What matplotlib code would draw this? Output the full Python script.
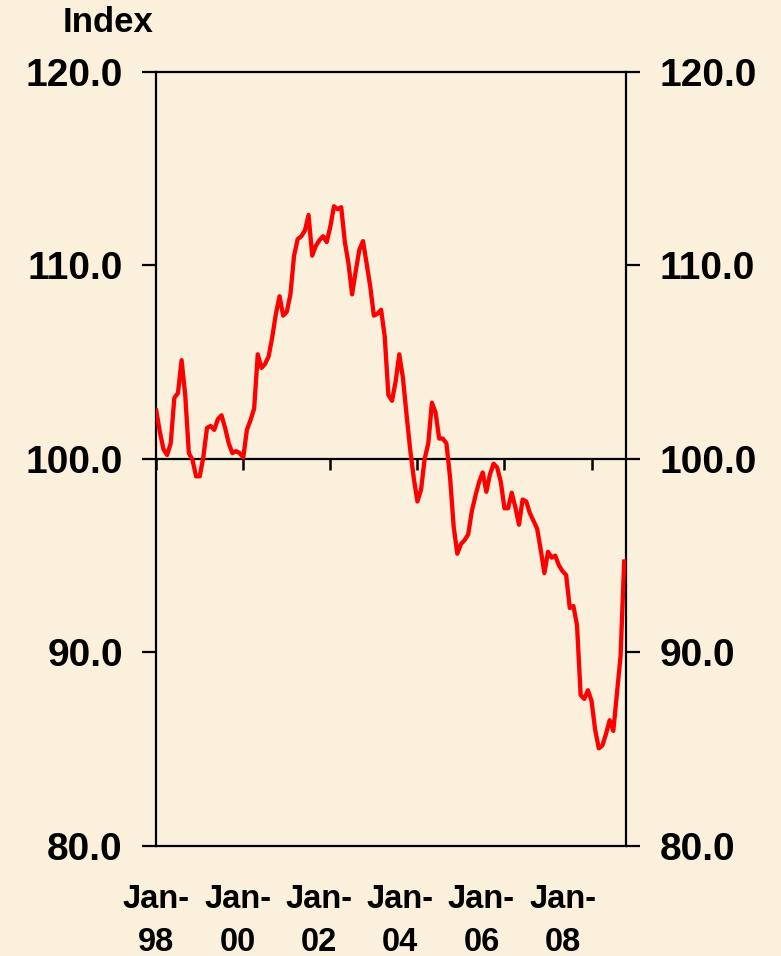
import numpy as np
import matplotlib
matplotlib.use('Agg')
import matplotlib.pyplot as plt

# Monthly index, Jan-98 onwards
values = [102.5, 101.4, 100.5, 100.2, 100.8, 103.15, 103.4, 105.1, 103.3, 100.3,
          99.95, 99.1, 99.1, 100.1, 101.6, 101.7, 101.5, 102.05, 102.25, 101.6,
          100.8, 100.3, 100.4, 100.3, 100.07, 101.5, 102.0, 102.6, 105.4, 104.7,
          104.9, 105.3, 106.3, 107.5, 108.4, 107.4, 107.6, 108.5, 110.5, 111.35,
          111.5, 111.8, 112.6, 110.5, 111.0, 111.3, 111.5, 111.2, 112.0, 113.05,
          112.9, 113.0, 111.2, 110.1, 108.5, 109.7, 110.8, 111.25, 110.1, 108.9,
          107.4, 107.5, 107.7, 106.3, 103.3, 103.0, 104.0, 105.4, 104.2, 102.3,
          100.5, 99.0, 97.8, 98.4, 100.0, 100.8, 102.9, 102.4, 101.05, 101.05,
          100.8, 99.05, 96.5, 95.1, 95.6, 95.8, 96.1, 97.3, 98.1, 98.8,
          99.3, 98.3, 99.2, 99.75, 99.55, 98.8, 97.45, 97.45, 98.25, 97.5,
          96.6, 97.9, 97.8, 97.2, 96.8, 96.4, 95.3, 94.1, 95.2, 94.9,
          95.0, 94.5, 94.2, 94.0, 92.3, 92.4, 91.4, 87.8, 87.6, 88.05,
          87.5, 86.0, 85.05, 85.2, 85.8, 86.5, 85.95, 87.9, 89.8, 94.7]
months = np.arange(len(values))

tick_months = [0, 24, 48, 72, 96, 120]
tick_labels = ['Jan-\n98', 'Jan-\n00', 'Jan-\n02', 'Jan-\n04', 'Jan-\n06', 'Jan-\n08']
y_ticks = [80, 90, 100, 110, 120]

bg = '#FBF0DC'
plt.rcParams['font.family'] = ['Liberation Sans', 'DejaVu Sans']
plt.rcParams['font.weight'] = 'bold'

fig = plt.figure(figsize=(7.81, 9.56), dpi=100, facecolor=bg)
ax = fig.add_axes([0.200, 0.115, 0.602, 0.810])
ax.set_facecolor(bg)

ax.plot(months, values, color='#FF0000', lw=3.1, solid_joinstyle='round', zorder=3)

ax.set_xlim(0, 129.6)
ax.set_ylim(80, 120)
ax.set_yticks(y_ticks)
ax.set_yticklabels(['%.1f' % v for v in y_ticks])

for s in ax.spines.values():
    s.set_linewidth(1.6)
    s.set_color('black')
# x axis crosses at 100
ax.spines['bottom'].set_position(('data', 100))
ax.set_xticks(tick_months)
ax.tick_params(axis='x', direction='out', length=8, width=1.8, labelbottom=False)
ax.tick_params(axis='y', direction='out', length=10, width=1.6, labelsize=28,
               left=True, right=True, labelleft=True, labelright=True, pad=14)

# frame line at 80 carries the date labels
sec = ax.secondary_xaxis(0)
sec.spines['bottom'].set_linewidth(1.6)
sec.set_xticks([m * 0.934 for m in tick_months])
sec.set_xticklabels(tick_labels, fontsize=23.5, fontweight='bold', linespacing=1.5)
sec.tick_params(axis='x', length=0, pad=27)

fig.text(0.139, 0.976, 'Index', fontsize=25, fontweight='bold', ha='center', va='center')

fig.savefig('out.png', dpi=100, facecolor=bg)
